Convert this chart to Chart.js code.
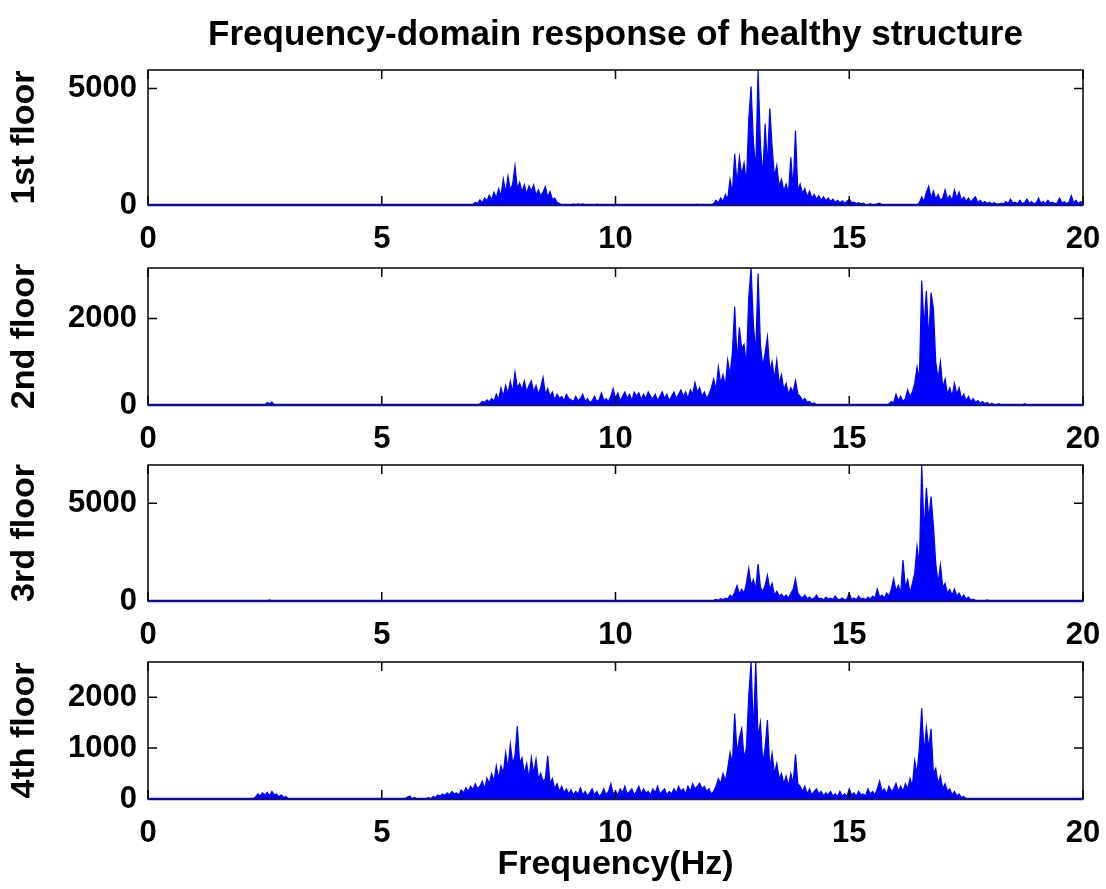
<!DOCTYPE html>
<html>
<head>
<meta charset="utf-8">
<title>Frequency-domain response of healthy structure</title>
<script src="https://cdn.jsdelivr.net/npm/chart.js@4.4.1/dist/chart.umd.min.js"></script>
<style>
body{margin:0;background:#fff;}
#wrap{position:relative;width:1106px;height:889px;overflow:hidden;}
#wrap canvas{position:absolute;left:0;}
</style>
</head>
<body>
<div id="wrap">
<canvas id="c1" width="1106" height="255" style="top:0px"></canvas>
<canvas id="c2" width="1106" height="219" style="top:236px"></canvas>
<canvas id="c3" width="1106" height="218" style="top:433px"></canvas>
<canvas id="c4" width="1106" height="259" style="top:630px"></canvas>
</div>
<script>
const freqStep=0.05;
const titleText="Frequency-domain response of healthy structure";
const xLabel="Frequency(Hz)";
const floorNames=["1st floor","2nd floor","3rd floor","4th floor"];
const yMax=[5800,3170,6960,2690];
const yTicks=[[0,5000],[0,2000],[0,5000],[0,1000,2000]];

const floor1Starts=[6.9,11.7];
const floor1Amps=[
 [0,30,120,60,220,100,300,180,420,220,550,300,700,380,1120,520,1240,650,900,1680,720,980,560,870,480,820,600,870,420,650,380,560,800,330,580,240,300,120,60,0,0,0,0,0,50,0,50,0,50,0,0,0,0,0,40,0],
 [0,40,0,30,0,0,0,0,60,200,100,300,150,450,250,1100,500,2200,900,2050,1300,1800,900,3650,5100,2700,1500,5800,2600,1200,3500,1700,4150,2500,1200,1700,800,1100,600,900,500,2050,700,3200,600,900,500,700,350,600,300,450,250,400,200,350,180,300,150,250,120,200,100,180,80,150,250,100,120,60,100,40,80,0,0,60,0,0,50,80,0,
  0,0,0,0,0,0,0,0,0,0,0,0,0,0,0,
  100,350,150,550,800,300,600,250,450,200,300,650,250,400,200,650,300,550,200,350,150,300,120,250,350,100,200,80,150,60,120,40,100,50,40,80,40,150,60,250,80,120,50,200,60,100,250,80,150,50,100,300,80,150,60,200,80,120,50,100,300,80,150,60,120,400,100,200,60,150,80]
];

const floor2Starts=[2.5,7.05,15.8,18.7];
const floor2Amps=[
 [0,60,30,70,0],
 [0,30,80,60,120,70,150,90,250,120,400,200,450,250,550,300,760,400,500,350,560,300,450,560,300,450,250,400,640,250,380,200,300,120,250,150,200,100,250,150,120,80,200,100,150,250,80,150,60,100,200,80,120,280,100,150,80,200,380,150,
  280,100,200,300,150,250,100,300,200,280,120,250,150,300,200,150,250,100,200,300,150,250,100,200,300,150,250,350,200,300,150,350,250,520,300,400,200,300,150,250,400,600,350,880,500,700,450,1040,700,1200,2280,1000,1800,1300,1400,900,2480,3170,1850,1200,3040,1400,900,1200,1580,800,1000,600,1040,500,700,350,500,250,400,300,560,250,200,100,150,60,80,30,50,0],
 [0,30,80,50,250,100,200,80,150,350,200,300,500,880,600,2880,1800,2640,1500,2600,2240,1000,600,1000,400,600,250,400,200,500,250,400,150,250,100,200,80,150,60,100,40,80,30,60,0,40,0,0,30,0],
 [0,30,0]
];

const floor3Starts=[2.55,12.05];
const floor3Amps=[
 [0,50,0],
 [0,30,80,40,120,60,150,100,300,200,450,790,350,600,400,900,1670,800,1100,600,1890,700,500,800,1320,600,900,300,500,250,350,200,300,150,400,600,1140,400,250,150,300,120,200,80,150,300,100,150,60,200,100,150,80,250,100,60,150,50,100,400,80,150,60,250,100,150,60,200,100,250,150,610,200,300,150,400,250,600,1140,500,800,400,2100,700,1100,400,900,1400,2800,1800,6960,3500,5790,4200,5350,3860,1930,900,1840,700,900,400,600,300,610,250,400,150,300,100,200,50,100,30,0,0,0,0,50,0]
];

const floor4Starts=[2.25,5.5];
const floor4Amps=[
 [0,40,100,60,120,80,130,60,150,80,100,40,80,30,50,0],
 [0,40,60,0,30,0,0,0,0,0,
  30,0,50,30,80,60,100,70,120,80,
  150,100,120,80,180,120,220,150,250,180,
  300,200,250,350,200,410,300,500,350,650,
  400,650,500,910,600,1080,700,850,1430,700,
  810,500,700,400,810,500,780,400,500,350,
  400,850,300,400,200,300,150,250,120,200,
  100,180,80,150,100,220,80,150,60,120,
  200,80,150,60,100,200,80,150,300,100,
  150,80,200,120,250,100,150,200,80,150,
  250,100,200,120,150,80,200,120,250,100,
  150,200,80,150,100,200,120,250,150,200,
  100,250,150,300,200,250,310,200,250,150,
  200,100,150,250,400,300,500,350,600,910,
  700,1680,900,1200,1380,800,1000,2010,2690,1300,
  2690,1200,1500,700,1000,1550,600,900,500,700,
  400,500,300,450,250,500,300,880,300,250,
  150,250,100,200,80,150,200,100,150,60,
  120,80,150,60,100,50,150,60,100,50,
  200,80,120,50,150,80,100,60,200,100,
  150,80,200,350,150,200,100,250,150,200,
  310,150,250,150,300,200,400,250,750,500,
  1000,1780,900,1410,1000,1380,500,600,300,450,
  200,300,150,200,80,150,60,100,30,50,
  0]
];

const allStarts=[floor1Starts,floor2Starts,floor3Starts,floor4Starts];
const allAmps=[floor1Amps,floor2Amps,floor3Amps,floor4Amps];

Chart.defaults.color="#000";
Chart.defaults.font.family='"Liberation Sans", Arial, Helvetica, sans-serif';
Chart.defaults.font.weight="bold";

function buildPoints(starts,amps){
    let pts=[{x:0,y:0}];
    starts.forEach((s,i)=>{
        amps[i].forEach((a,j)=>{
            pts.push({x:Math.round((s+j*freqStep)*100)/100,y:a});
        });
    });
    pts.push({x:20,y:0});
    return pts;
}

// matlab style box with inward ticks on all four sides
const axesBox={
    id:"axesBox",
    afterDatasetsDraw(chart){
        const {ctx,chartArea:a}=chart;
        const xs=chart.scales.x, ys=chart.scales.y;
        const len=9;
        ctx.save();
        ctx.strokeStyle="#000";
        ctx.lineWidth=1.5;
        ctx.strokeRect(a.left,a.top,a.right-a.left,a.bottom-a.top);
        ctx.beginPath();
        xs.ticks.forEach(t=>{
            const px=xs.getPixelForValue(t.value);
            ctx.moveTo(px,a.bottom); ctx.lineTo(px,a.bottom-len);
            ctx.moveTo(px,a.top); ctx.lineTo(px,a.top+len);
        });
        ys.ticks.forEach(t=>{
            const py=ys.getPixelForValue(t.value);
            ctx.moveTo(a.left,py); ctx.lineTo(a.left+len,py);
            ctx.moveTo(a.right,py); ctx.lineTo(a.right-len,py);
        });
        ctx.stroke();
        // the zero line of the trace sits on the axis, looks navy and thick
        ctx.strokeStyle="#10108a";
        ctx.lineWidth=2.5;
        ctx.beginPath();
        ctx.moveTo(a.left,a.bottom);
        ctx.lineTo(a.right,a.bottom);
        ctx.stroke();
        ctx.restore();
    }
};

function makeChart(id,i){
    const first=i==0;
    const last=i==3;
    const scales={
        x:{
            type:"linear",min:0,max:20,
            grid:{display:false,drawTicks:false},
            border:{display:false},
            ticks:{stepSize:5,padding:16,font:{size:31,weight:"bold"},maxRotation:0,autoSkip:false},
            title:{display:last,text:xLabel,font:{size:34,weight:"bold"},padding:{top:0,bottom:3.6}},
            afterFit(s){
                s.height=last?90:50;
                // the "20" label may hang over the right edge, like in matlab
                s.paddingLeft=0;
                s.paddingRight=0;
            }
        },
        y:{
            min:0,max:yMax[i],
            grid:{display:false,drawTicks:false},
            border:{display:false},
            afterBuildTicks(s){ s.ticks=yTicks[i].map(v=>({value:v})); },
            ticks:{padding:11,font:{size:31,weight:"bold"},callback:v=>String(v)},
            title:{display:true,text:floorNames[i],font:{size:34,weight:"bold"},padding:{top:4.6,bottom:0}},
            afterFit(s){ s.width=148; }
        }
    };
    if(first){
        // top axis only carries the figure title, so it centres over the plot box
        scales.top={
            type:"linear",position:"top",min:0,max:20,
            grid:{display:false,drawTicks:false},
            border:{display:false},
            ticks:{display:false},
            title:{display:true,text:titleText,font:{size:35,weight:"bold"},padding:{top:14,bottom:0}},
            afterFit(s){ s.height=70; s.paddingLeft=0; s.paddingRight=0; }
        };
    }
    return new Chart(document.getElementById(id),{
        type:"line",
        data:{datasets:[{
            data:buildPoints(allStarts[i],allAmps[i]),
            borderColor:"#0000ff",
            backgroundColor:"#0000ff",
            borderWidth:1.2,
            pointRadius:0,
            fill:"origin",
            tension:0
        }]},
        options:{
            responsive:false,
            animation:false,
            layout:{padding:{top:first?0:32,right:23,left:0,bottom:0}},
            plugins:{legend:{display:false},tooltip:{enabled:false}},
            scales:scales
        },
        plugins:[axesBox]
    });
}

makeChart("c1",0);
makeChart("c2",1);
makeChart("c3",2);
makeChart("c4",3);
</script>
</body>
</html>
